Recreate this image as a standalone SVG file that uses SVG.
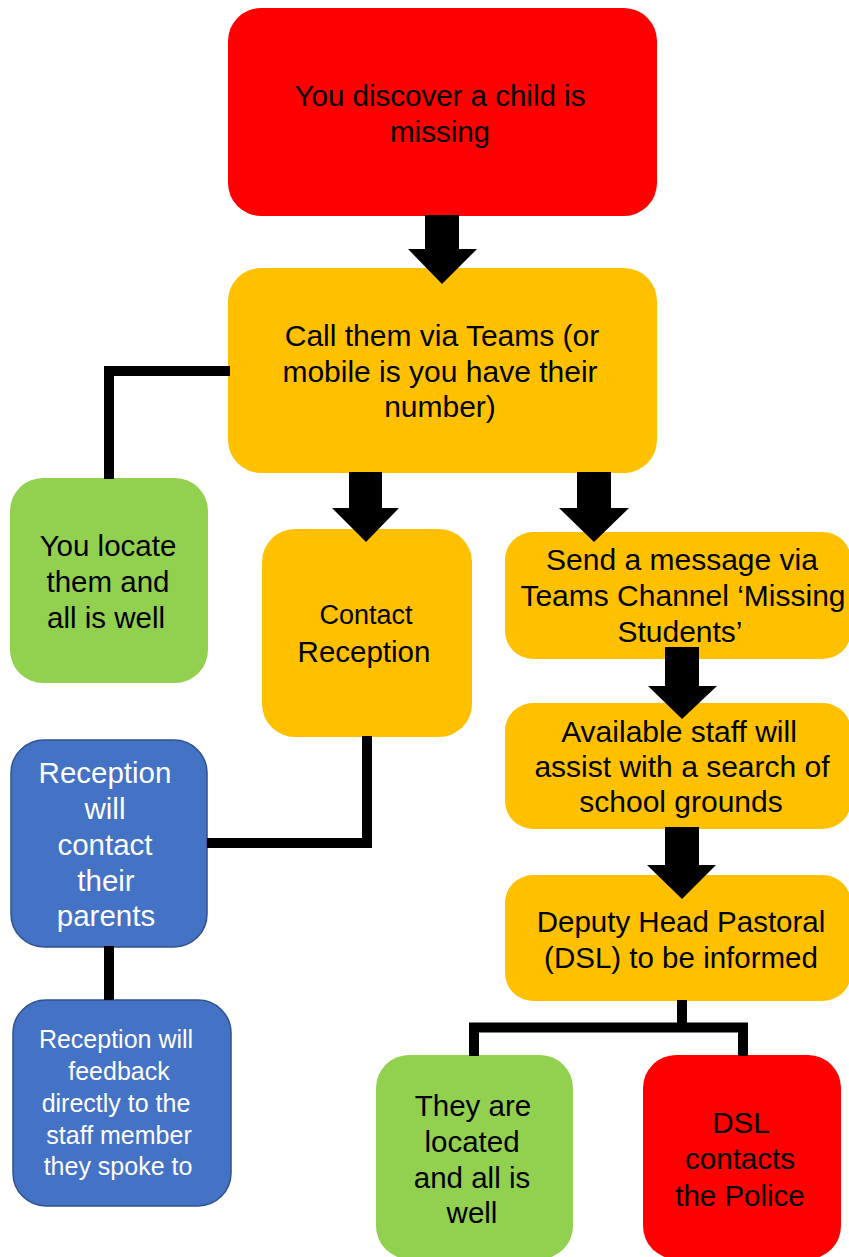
<svg xmlns="http://www.w3.org/2000/svg" width="849" height="1257" viewBox="0 0 849 1257">
<style>
.t{font-family:"Liberation Sans",Arial,sans-serif;font-size:29.5px;fill:#000;text-anchor:middle}
.b{font-size:30px}
.w{fill:#fff}
.s{font-size:25px}
.red{fill:#FF0000}
.org{fill:#FFC000}
.grn{fill:#92D050}
.blu{fill:#4472C4;stroke:#2F528F;stroke-width:1.5}
.ln{fill:none;stroke:#000;stroke-width:10;stroke-linejoin:miter;stroke-linecap:butt}
.ar{fill:#000}
</style>
<rect width="849" height="1257" fill="#fff"/>
<g id="n1">
<rect class="red" x="228" y="8" width="429" height="208" rx="33"/>
<text class="t" x="440" y="106">You discover a child is</text>
<text class="t" x="440" y="142">missing</text>
</g>
<g id="n2">
<rect class="org" x="228" y="268" width="429" height="205" rx="33"/>
<text class="t b" x="442" y="346">Call them via Teams (or</text>
<text class="t b" x="440" y="382">mobile is you have their</text>
<text class="t b" x="440" y="417">number)</text>
</g>
<g id="n3">
<rect class="grn" x="10" y="478" width="198" height="205" rx="33"/>
<text class="t" x="108" y="556">You locate</text>
<text class="t" x="108" y="592">them and</text>
<text class="t" x="106" y="628">all is well</text>
</g>
<g id="n4">
<rect class="org" x="262" y="529" width="210" height="208" rx="33"/>
<text class="t" x="366" y="624" style="font-size:27px">Contact</text>
<text class="t" x="364" y="662">Reception</text>
</g>
<g id="n5">
<rect class="org" x="505" y="532" width="346" height="127" rx="28"/>
<text class="t b" x="682" y="570">Send a message via</text>
<text class="t b" x="683" y="606">Teams Channel ‘Missing</text>
<text class="t b" x="680" y="642">Students’</text>
</g>
<g id="n6">
<rect class="org" x="505" y="703" width="346" height="126" rx="28"/>
<text class="t b" x="679" y="742">Available staff will</text>
<text class="t b" x="682" y="777">assist with a search of</text>
<text class="t b" x="681" y="812">school grounds</text>
</g>
<g id="n7">
<rect class="org" x="505" y="875" width="346" height="126" rx="28"/>
<text class="t" x="681" y="932">Deputy Head Pastoral</text>
<text class="t" x="681" y="968">(DSL) to be informed</text>
</g>
<g id="n8">
<rect class="blu" x="11" y="740" width="196" height="207" rx="33"/>
<text class="t w" x="105" y="783">Reception</text>
<text class="t w" x="105" y="819">will</text>
<text class="t w" x="105" y="855">contact</text>
<text class="t w" x="106" y="891">their</text>
<text class="t w" x="106" y="926">parents</text>
</g>
<g id="n9">
<rect class="blu" x="13" y="1000" width="218" height="206" rx="33"/>
<text class="t w s" x="116" y="1048">Reception will</text>
<text class="t w s" x="119" y="1080">feedback</text>
<text class="t w s" x="116" y="1112">directly to the</text>
<text class="t w s" x="119" y="1144">staff member</text>
<text class="t w s" x="118" y="1175">they spoke to</text>
</g>
<g id="n10">
<rect class="grn" x="376" y="1055" width="197" height="204" rx="33"/>
<text class="t" x="473" y="1116">They are</text>
<text class="t" x="472" y="1152">located</text>
<text class="t" x="472" y="1188">and all is</text>
<text class="t" x="472" y="1223">well</text>
</g>
<g id="n11">
<rect class="red" x="643" y="1055" width="198" height="204" rx="33"/>
<text class="t" x="741" y="1133">DSL</text>
<text class="t" x="740" y="1169">contacts</text>
<text class="t" x="740" y="1206">the Police</text>
</g>
<g id="connectors">
<polygon class="ar" points="425,215 459,215 459,249 477,249 442,284 408,249 425,249"/>
<polygon class="ar" points="349,472 382,472 382,508 399,508 366,542 332,508 349,508"/>
<polygon class="ar" points="577,472 611,472 611,508 629,508 594,542 559,508 577,508"/>
<polygon class="ar" points="665,647 699,647 699,686 717,686 682,719 648,686 665,686"/>
<polygon class="ar" points="665,827 699,827 699,865 716,865 682,899 647,865 665,865"/>
<polyline class="ln" points="230,371 109,371 109,479"/>
<polyline class="ln" points="367,736 367,843 207,843"/>
<line class="ln" x1="109" y1="946" x2="109" y2="1000"/>
<line class="ln" x1="682" y1="1000" x2="682" y2="1028"/>
<polyline class="ln" points="474,1056 474,1027.5 743,1027.5 743,1056"/>
</g>
</svg>
